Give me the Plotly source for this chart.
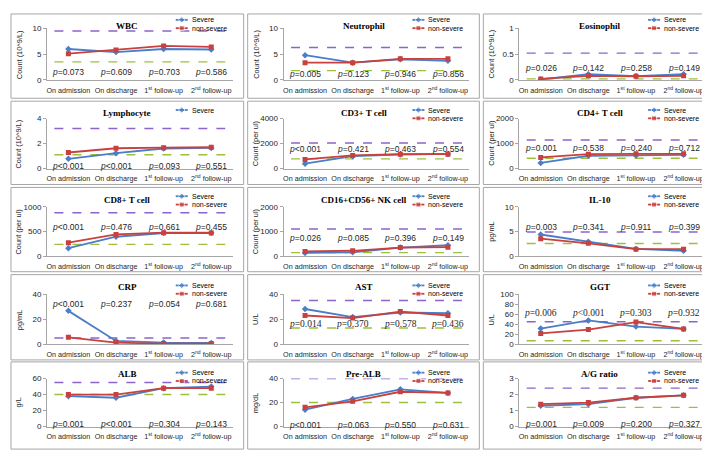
import plotly.graph_objects as go

W, H = 710, 451

categories = ["On admission", "On discharge", "1<sup>st</sup> follow-up", "2<sup>nd</sup> follow-up"]

titles = ["WBC", "Neutrophil", "Eosinophil", "Lymphocyte", "CD3+ T cell", "CD4+ T cell",
          "CD8+ T cell", "CD16+CD56+ NK cell", "IL-10", "CRP", "AST", "GGT",
          "ALB", "Pre-ALB", "A/G ratio"]
y_titles = ["Count (10^9/L)"] * 4 + ["Count (per ul)"] * 4 + ["pg/mL", "pg/mL", "U/L", "U/L", "g/L", "mg/dL", ""]
y_max = [10, 10, 1, 4, 4000, 2000, 1000, 2000, 10, 40, 40, 100, 60, 40, 3]
y_dtick = [5, 5, 0.5, 2, 2000, 1000, 500, 1000, 5, 20, 20, 20, 20, 20, 1]

# series values
wbc_severe = [6.0, 5.4, 6.0, 5.9]
wbc_nonsevere = [5.1, 5.8, 6.6, 6.4]
neut_severe = [4.8, 3.35, 4.0, 3.7]
neut_nonsevere = [3.35, 3.35, 4.1, 4.1]
eos_severe = [0.01, 0.11, 0.075, 0.11]
eos_nonsevere = [0.02, 0.08, 0.07, 0.08]
lym_severe = [0.78, 1.23, 1.6, 1.65]
lym_nonsevere = [1.28, 1.62, 1.67, 1.7]
cd3_severe = [390, 990, 1120, 1170]
cd3_nonsevere = [730, 1045, 1150, 1150]
cd4_severe = [222, 510, 523, 549]
cd4_nonsevere = [444, 575, 588, 588]
cd8_severe = [164, 395, 470, 475]
cd8_nonsevere = [276, 441, 475, 470]
nk_severe = [135, 160, 355, 447]
nk_nonsevere = [197, 224, 355, 368]
il10_severe = [4.4, 2.96, 1.5, 1.1]
il10_nonsevere = [3.55, 2.63, 1.45, 1.45]
crp_severe = [26.7, 2.6, 1.3, 1.0]
crp_nonsevere = [5.5, 1.3, 0.5, 0.5]
ast_severe = [28.2, 21.7, 25.4, 24.8]
ast_nonsevere = [23.0, 20.9, 26.1, 23.0]
ggt_severe = [31.4, 47.7, 35.3, 30.7]
ggt_nonsevere = [21.6, 29.4, 44.4, 30.7]
alb_severe = [38, 36, 48, 50]
alb_nonsevere = [40, 40, 48, 48]
prealb_severe = [14, 23, 31, 28]
prealb_nonsevere = [16, 21, 29, 28]
ag_severe = [1.3, 1.4, 1.8, 1.95]
ag_nonsevere = [1.4, 1.5, 1.8, 1.95]

severe_series = [wbc_severe, neut_severe, eos_severe, lym_severe, cd3_severe, cd4_severe,
                 cd8_severe, nk_severe, il10_severe, crp_severe, ast_severe, ggt_severe,
                 alb_severe, prealb_severe, ag_severe]
nonsevere_series = [wbc_nonsevere, neut_nonsevere, eos_nonsevere, lym_nonsevere, cd3_nonsevere,
                    cd4_nonsevere, cd8_nonsevere, nk_nonsevere, il10_nonsevere, crp_nonsevere,
                    ast_nonsevere, ggt_nonsevere, alb_nonsevere, prealb_nonsevere, ag_nonsevere]

# reference ranges (upper / lower normal limits)
upper_limits = [9.5, 6.3, 0.52, 3.2, 2040, 1140, 880, 1100, 4.9, 5, 35, 45, 55, 40, 2.4]
lower_limits = [3.5, 1.8, 0.02, 1.1, 770, 410, 240, 150, 2.6, None, 13, 7, 40, 20, 1.2]

# p values
p_values = [
    ["=0.073", "=0.609", "=0.703", "=0.586"],
    ["=0.005", "=0.123", "=0.946", "=0.856"],
    ["=0.026", "=0.142", "=0.258", "=0.149"],
    ["<0.001", "<0.001", "=0.093", "=0.551"],
    ["<0.001", "=0.421", "=0.463", "=0.554"],
    ["=0.001", "=0.538", "=0.240", "=0.712"],
    ["<0.001", "=0.476", "=0.661", "=0.455"],
    ["=0.026", "=0.085", "=0.396", "=0.149"],
    ["=0.003", "=0.341", "=0.911", "=0.399"],
    ["<0.001", "=0.237", "=0.054", "=0.681"],
    ["=0.014", "=0.370", "=0.578", "=0.436"],
    ["=0.006", "<0.001", "=0.303", "=0.932"],
    ["=0.001", "<0.001", "=0.304", "=0.143"],
    ["<0.001", "=0.063", "=0.550", "=0.631"],
    ["=0.001", "=0.009", "=0.200", "=0.327"],
]
p_ypos = [0.16, 0.11, 0.225, 0.05, 0.39, 0.41, 0.59, 0.375, 0.59, 0.80, 0.41, 0.62, 0.05, 0.03, 0.05]
p_serif = [False] * 10 + [True, True, False, False, False]

# layout geometry (pixels)
col_left = [2, 239, 475]
col_right = [235, 471, 708]
panel_top = [2, 91, 179, 268, 357]
panel_bot = [88, 176, 265, 355, 446]
plot_top = [16.7, 108.7, 198.7, 288, 374]
plot_bot = [69.3, 159.7, 249.3, 339, 423]
legend_off = [6, 9, 9, 11, 11]
plot_l, plot_r = 36, 222

BLUE = "#4A7EC8"
RED = "#C8413E"
PURPLE = "#8C64CC"
GREEN = "#9DC03C"
SANS = "Liberation Sans, Arial, sans-serif"
SERIF = "Liberation Serif, Times New Roman, serif"
TXT = "#262626"

fig = go.Figure()
shapes = []
annotations = []
layout = {}

for i in range(15):
    r, c = divmod(i, 3)
    n = i + 1
    xa = "x" if n == 1 else f"x{n}"
    ya = "y" if n == 1 else f"y{n}"
    xl = "xaxis" if n == 1 else f"xaxis{n}"
    yl = "yaxis" if n == 1 else f"yaxis{n}"
    left = col_left[c]
    px0, px1 = left + plot_l, left + plot_r
    py0, py1 = plot_top[r], plot_bot[r]
    layout[xl] = dict(domain=[px0 / W, px1 / W], anchor=ya, range=[-0.45, 3.45],
                      tickmode="array", tickvals=[0, 1, 2, 3], ticktext=categories,
                      showgrid=False, zeroline=False, showline=True, linecolor="#A6A6A6",
                      linewidth=1, ticks="", tickfont=dict(family=SANS, size=7.2, color=TXT),
                      tickangle=0, ticklabelstandoff=3, fixedrange=True)
    layout[yl] = dict(domain=[1 - py1 / H, 1 - py0 / H], anchor=xa, range=[0, y_max[i]],
                      tickmode="linear", tick0=0, dtick=y_dtick[i], showgrid=False,
                      zeroline=False, showline=True, linecolor="#A6A6A6", linewidth=1,
                      ticks="outside", ticklen=3, tickcolor="#A6A6A6",
                      tickfont=dict(family=SANS, size=8, color=TXT), fixedrange=True)

    xs = list(range(len(categories)))
    fig.add_trace(go.Scatter(x=xs, y=severe_series[i], xaxis=xa, yaxis=ya,
                             mode="lines+markers", line=dict(color=BLUE, width=1.8),
                             marker=dict(symbol="diamond", size=5, color=BLUE),
                             showlegend=False, name="Severe"))
    fig.add_trace(go.Scatter(x=xs, y=nonsevere_series[i], xaxis=xa, yaxis=ya,
                             mode="lines+markers", line=dict(color=RED, width=1.8),
                             marker=dict(symbol="square", size=5, color=RED),
                             showlegend=False, name="non-severe"))

    # reference lines
    for val, col in ((upper_limits[i], PURPLE), (lower_limits[i], GREEN)):
        if val is None:
            continue
        shapes.append(dict(type="line", xref=f"{xa} domain", yref=ya, x0=0.04, x1=0.96,
                           y0=val, y1=val, line=dict(color=col, width=1.4, dash="dash"),
                           layer="below"))

    # panel border
    shapes.append(dict(type="rect", xref="paper", yref="paper",
                       x0=left / W, x1=col_right[c] / W,
                       y0=1 - panel_bot[r] / H, y1=1 - panel_top[r] / H,
                       line=dict(color="#A6A6A6", width=1)))

    # title
    annotations.append(dict(text=f"<b>{titles[i]}</b>", xref="paper", yref="paper",
                            x=(left + col_right[c]) / 2 / W, y=1 - (panel_top[r] + 12.5) / H,
                            showarrow=False, font=dict(family=SERIF, size=9, color="#000"),
                            xanchor="center", yanchor="middle"))
    # y title
    if y_titles[i]:
        annotations.append(dict(text=y_titles[i], xref="paper", yref="paper",
                                x=(left + 8) / W, y=1 - (py0 + py1) / 2 / H, textangle=-90,
                                showarrow=False, font=dict(family=SANS, size=7.4, color=TXT),
                                xanchor="center", yanchor="middle"))
    # p values
    for k, pv in enumerate(p_values[i]):
        fam = SERIF if p_serif[i] else SANS
        annotations.append(dict(text=f"<i>p</i>{pv}", xref=xa, yref=f"{ya} domain",
                                x=k, y=p_ypos[i], showarrow=False,
                                font=dict(family=fam, size=8.5 if not p_serif[i] else 9.5, color=TXT),
                                xanchor="center", yanchor="middle"))

    # legend (drawn in pixel overlay)
    entries = [("Severe", BLUE, "diamond")]
    if i != 3:
        entries.append(("non-severe", RED, "square"))
    for j, (lab, colr, sym) in enumerate(entries):
        ly = panel_top[r] + legend_off[r] + j * 8.5
        lx0 = left + 165
        fig.add_trace(go.Scatter(x=[lx0, lx0 + 6, lx0 + 12], y=[ly, ly, ly], xaxis="x16", yaxis="y16",
                                 mode="lines+markers", line=dict(color=colr, width=1.8),
                                 marker=dict(symbol=sym, size=[0, 5, 0], color=colr),
                                 showlegend=False, hoverinfo="skip"))
        annotations.append(dict(text=lab, xref="paper", yref="paper", x=(lx0 + 14) / W,
                                y=1 - ly / H, showarrow=False,
                                font=dict(family=SANS, size=7, color="#000"),
                                xanchor="left", yanchor="middle"))

layout["xaxis16"] = dict(domain=[0, 1], range=[0, W], visible=False, anchor="y16", fixedrange=True)
layout["yaxis16"] = dict(domain=[0, 1], range=[H, 0], visible=False, anchor="x16", fixedrange=True)

fig.update_layout(**layout)
fig.update_layout(width=W, height=H, margin=dict(l=0, r=0, t=0, b=0),
                  paper_bgcolor="white", plot_bgcolor="rgba(0,0,0,0)",
                  shapes=shapes, annotations=annotations, showlegend=False)

fig.write_html("out.html", config={"displayModeBar": False})
